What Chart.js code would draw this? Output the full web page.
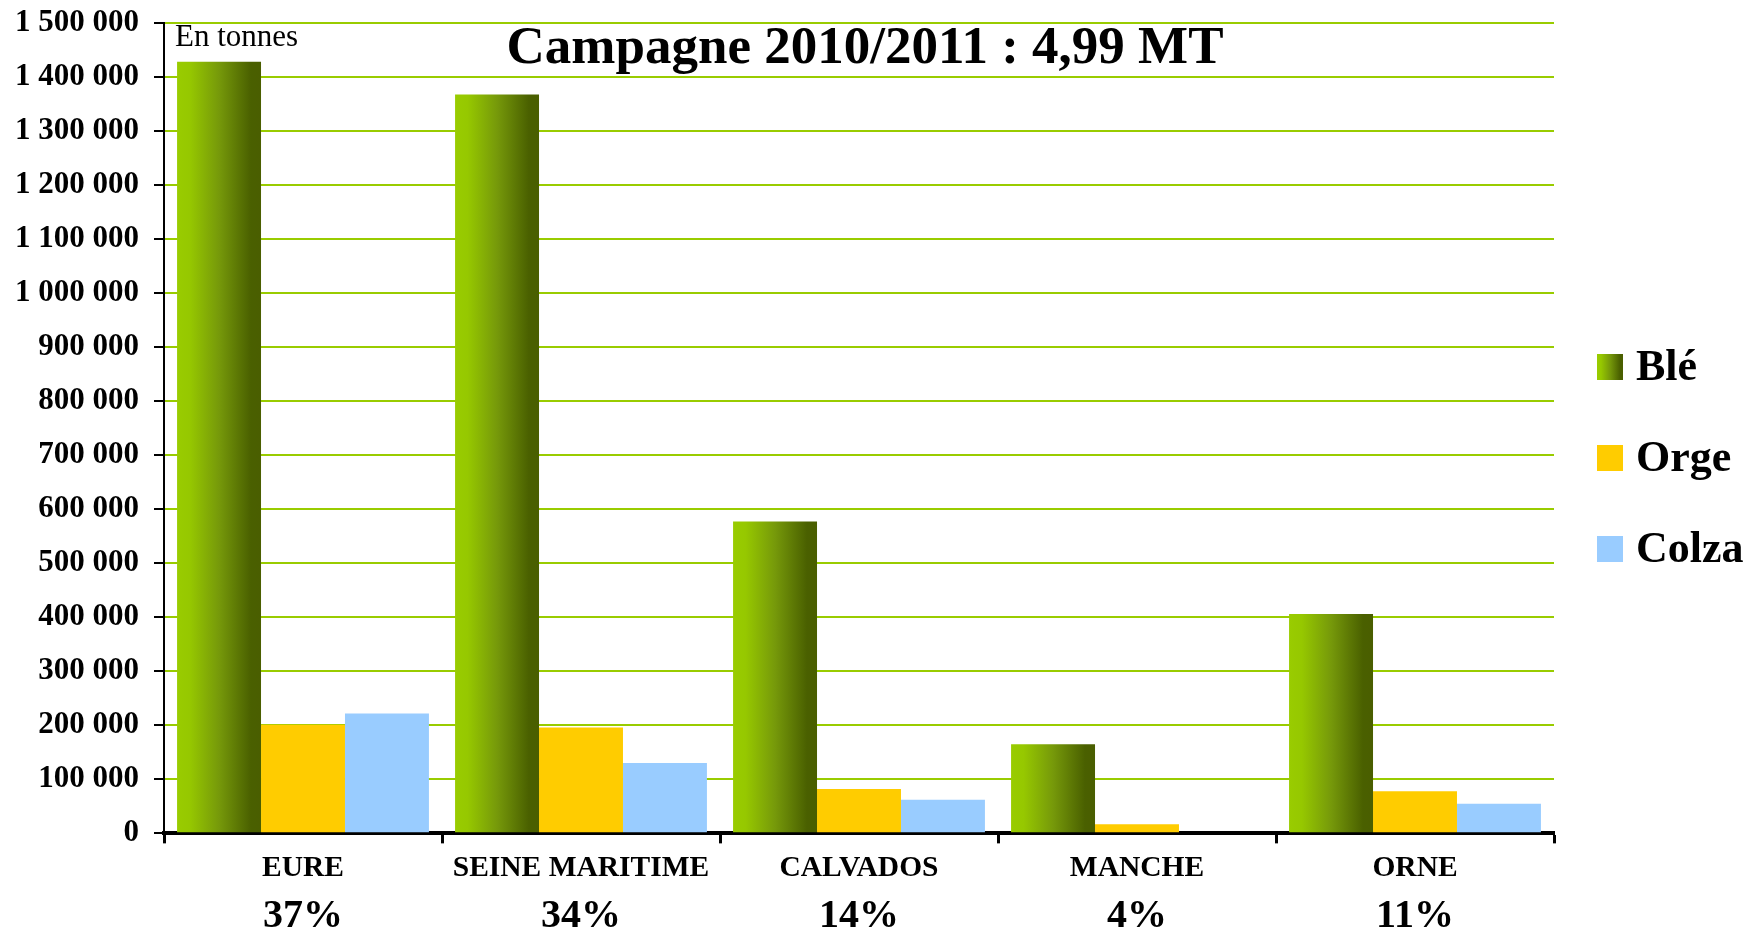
<!DOCTYPE html>
<html>
<head>
<meta charset="utf-8">
<script src="https://cdn.jsdelivr.net/npm/chart.js@4/dist/chart.umd.min.js"></script>
<style>
  html, body { margin: 0; padding: 0; background: #ffffff; }
  #wrap { width: 1749px; height: 933px; position: relative; }
</style>
</head>
<body>
<div id="wrap"><canvas id="c"></canvas></div>
<script>
// ---- data ----
const categories = ['EURE', 'SEINE MARITIME', 'CALVADOS', 'MANCHE', 'ORNE'];
const sharePercents = ['37%', '34%', '14%', '4%', '11%'];
const seriesNames = ['Blé', 'Orge', 'Colza'];
const bleValues = [1428000, 1367000, 577000, 165000, 406000];
const orgeValues = [201000, 196000, 82000, 17000, 78000];
const colzaValues = [222000, 130000, 62000, 0, 55000];
const yTickMax = 1500000;
const yTickStep = 100000;
const titleText = 'Campagne 2010/2011 : 4,99 MT';
const unitText = 'En tonnes';

// ---- styles ----
const SERIF = "'Liberation Serif', 'Times New Roman', serif";
const ORGE_COLOR = '#ffcc00';
const COLZA_COLOR = '#99ccff';
const GRID_COLOR = '#99cc00';

function bleGradient(ctx, x0, x1) {
  const g = ctx.createLinearGradient(x0, 0, x1, 0);
  g.addColorStop(0, '#99cc00');
  g.addColorStop(0.15, '#96c800');
  g.addColorStop(0.5, '#76990a');
  g.addColorStop(0.88, '#4a6000');
  g.addColorStop(1, '#4a5e00');
  return g;
}

const fmt = v => String(v).replace(/\B(?=(\d{3})+(?!\d))/g, ' ');

const gradientBars = {
  id: 'gradientBars',
  beforeDatasetsDraw(chart) {
    const meta = chart.getDatasetMeta(0);
    meta.data.forEach(el => {
      const g = bleGradient(chart.ctx, el.x - el.width / 2, el.x + el.width / 2);
      el.options = Object.assign({}, el.options, { backgroundColor: g });
    });
  }
};

const overlayTexts = {
  id: 'overlayTexts',
  afterDraw(chart) {
    const ctx = chart.ctx;
    const area = chart.chartArea;
    ctx.save();
    // title
    ctx.fillStyle = '#000';
    ctx.font = 'bold 53px ' + SERIF;
    ctx.textAlign = 'center';
    ctx.textBaseline = 'middle';
    ctx.fillText(titleText, (area.left + area.right) / 2 + 6, 49);
    // unit
    ctx.font = '31px ' + SERIF;
    ctx.textAlign = 'left';
    ctx.fillText(unitText, area.left + 11, 38);
    // legend
    const colors = [null, ORGE_COLOR, COLZA_COLOR];
    const boxX = area.right + 43;
    const box = 26;
    ctx.font = 'bold 44px ' + SERIF;
    seriesNames.forEach((name, i) => {
      const cy = 367 + i * 91;
      ctx.fillStyle = i === 0 ? bleGradient(ctx, boxX, boxX + box) : colors[i];
      ctx.fillRect(boxX, cy - box / 2, box, box);
      ctx.fillStyle = '#000';
      ctx.fillText(name, boxX + 39, cy + 2);
    });
    ctx.restore();
  }
};

new Chart(document.getElementById('c'), {
  type: 'bar',
  data: {
    labels: categories,
    datasets: [
      { label: seriesNames[0], data: bleValues, backgroundColor: '#99cc00', borderWidth: 0 },
      { label: seriesNames[1], data: orgeValues, backgroundColor: ORGE_COLOR, borderWidth: 0 },
      { label: seriesNames[2], data: colzaValues, backgroundColor: COLZA_COLOR, borderWidth: 0 }
    ]
  },
  options: {
    responsive: true,
    maintainAspectRatio: false,
    animation: false,
    datasets: { bar: { categoryPercentage: 0.906, barPercentage: 1.0 } },
    layout: { padding: { left: 0, right: 195, top: 0, bottom: -8 } },
    plugins: {
      legend: { display: false },
      title: { display: false },
      tooltip: { enabled: false }
    },
    scales: {
      x: {
        type: 'category',
        position: 'bottom',
        offset: true,
        grid: {
          display: true,
          drawOnChartArea: false,
          drawTicks: true,
          tickLength: 10,
          tickColor: '#000',
          tickWidth: 3,
          offset: true
        },
        border: { display: true, color: '#000', width: 4 },
        ticks: {
          color: '#000',
          font: { family: SERIF, size: 29.5, weight: 'bold', lineHeight: 1.14 },
          padding: 8,
          maxRotation: 0,
          autoSkip: false
        }
      },
      xp: {
        type: 'category',
        position: 'bottom',
        labels: sharePercents,
        offset: true,
        grid: { display: false, drawTicks: false, drawOnChartArea: false },
        border: { display: false },
        ticks: {
          color: '#000',
          font: { family: SERIF, size: 40, weight: 'bold', lineHeight: 1.2 },
          padding: 0,
          maxRotation: 0,
          autoSkip: false
        }
      },
      y: {
        min: 0,
        max: yTickMax,
        grid: {
          color: GRID_COLOR,
          lineWidth: 2,
          tickColor: '#000',
          tickLength: 10,
          tickWidth: 2,
          drawTicks: true
        },
        border: { display: true, color: '#000', width: 2 },
        ticks: {
          stepSize: yTickStep,
          color: '#000',
          padding: 15,
          font: { family: SERIF, size: 31, weight: 'bold', lineHeight: 0.5 },
          callback: v => fmt(v)
        }
      }
    }
  },
  plugins: [gradientBars, overlayTexts]
});
</script>
</body>
</html>
